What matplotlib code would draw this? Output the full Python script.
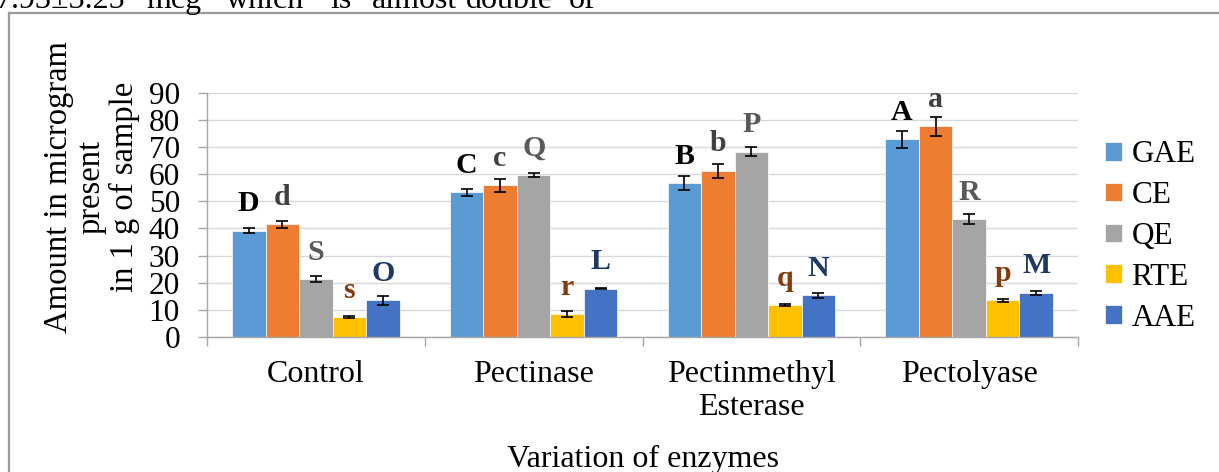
import matplotlib
matplotlib.use("Agg")
import matplotlib.pyplot as plt
import numpy as np
from matplotlib.lines import Line2D

plt.rcParams['font.family'] = ['Liberation Serif', 'DejaVu Serif']

# enzyme treatments and extract groups
enzymes = ['Control', 'Pectinase', 'Pectinmethyl\nEsterase', 'Pectolyase']
series = ['GAE', 'CE', 'QE', 'RTE', 'AAE']

gae = [39.2, 53.3, 56.8, 72.9]
ce = [41.5, 56.0, 61.3, 77.7]
qe = [21.3, 59.8, 68.4, 43.5]
rte = [7.2, 8.4, 11.7, 13.5]
aae = [13.4, 17.8, 15.3, 16.2]

gae_err = [0.9, 1.3, 2.6, 3.3]
ce_err = [1.2, 2.4, 2.5, 3.4]
qe_err = [1.0, 0.6, 1.6, 1.8]
rte_err = [0.3, 1.0, 0.5, 0.6]
aae_err = [1.5, 0.2, 1.0, 0.8]

# significance letters per series
gae_letters = ['D', 'C', 'B', 'A']
ce_letters = ['d', 'c', 'b', 'a']
qe_letters = ['S', 'Q', 'P', 'R']
rte_letters = ['s', 'r', 'q', 'p']
aae_letters = ['O', 'L', 'N', 'M']

values = [gae, ce, qe, rte, aae]
errors = [gae_err, ce_err, qe_err, rte_err, aae_err]
letters = [gae_letters, ce_letters, qe_letters, rte_letters, aae_letters]
colors = ['#5B9BD5', '#ED7D31', '#A5A5A5', '#FFC000', '#4472C4']
letter_colors = ['#000000', '#404040', '#595959', '#843C0C', '#1F3864']

fig = plt.figure(figsize=(12.19, 4.72), dpi=100)
ax = fig.add_axes([207 / 1219, 135.3 / 472, 871 / 1219, 243.5 / 472])

x = np.arange(len(enzymes))
w = 0.154
for i, name in enumerate(series):
    pos = x + (i - 2) * w
    ax.bar(pos, values[i], w, color=colors[i], edgecolor='white',
           linewidth=0.5, label=name, zorder=2)
    ax.errorbar(pos, values[i], yerr=errors[i], fmt='none', ecolor='black',
                elinewidth=1.2, capsize=4.3, capthick=1.2, zorder=3)
    for px, v, lab in zip(pos, values[i], letters[i]):
        ax.annotate(lab, (px, v), xytext=(0, 14), textcoords='offset points',
                    ha='center', va='baseline', fontsize=21.5, fontweight='bold',
                    color=letter_colors[i], zorder=4)

ax.set_xlim(-0.5, len(enzymes) - 0.5)
ax.set_ylim(0, 90)
ax.set_yticks(np.arange(0, 91, 10))
ax.set_xticks(x)
ax.set_xticklabels(enzymes, fontsize=23, linespacing=1.15)
ax.set_xticks(np.arange(-0.5, len(enzymes), 1), minor=True)
ax.tick_params(axis='x', which='major', length=0, pad=17)
ax.tick_params(axis='x', which='minor', length=6.5, color='#A6A6A6', width=1)
ax.tick_params(axis='y', length=6.5, color='#A6A6A6', width=1, labelsize=22.5, pad=13)
ax.grid(axis='y', color='#D9D9D9', linewidth=1, zorder=0)
ax.set_axisbelow(True)
for side in ['top', 'right']:
    ax.spines[side].set_visible(False)
for side in ['left', 'bottom']:
    ax.spines[side].set_color('#A6A6A6')
    ax.spines[side].set_linewidth(1)

fig.text(0.5271, 5.3 / 472, 'Variation of enzymes', ha='center',
         va='baseline', fontsize=23)
fig.text(92 / 1219, 0.604, 'Amount in microgram\npresent\nin 1 g of sample',
         rotation=90, ha='center', va='center', fontsize=23.5,
         multialignment='center', linespacing=1.1)

ax.legend(loc='center left', bbox_to_anchor=(1105 / 1219, 0.499),
          bbox_transform=fig.transFigure, frameon=False, fontsize=22.5,
          handlelength=0.55, handleheight=0.55, handletextpad=0.3,
          labelspacing=0.38, borderpad=0, borderaxespad=0)

# surrounding frame and the line of body text above it
fig.add_artist(Line2D([9 / 1219, 9 / 1219], [0, 1 - 13 / 472],
                      transform=fig.transFigure, color='#9A9A9A', lw=1.6))
fig.add_artist(Line2D([9 / 1219, 1], [1 - 13 / 472, 1 - 13 / 472],
                      transform=fig.transFigure, color='#9A9A9A', lw=1.6))
body_words = ['7.93\u00b13.25', 'mcg', 'which', 'is', 'almost', 'double', 'of']
body_x = [-4, 146, 226, 330, 372, 466, 569]
for word, bx in zip(body_words, body_x):
    fig.text(bx / 1219, 1 - 8 / 472, word, ha='left', va='baseline', fontsize=23)

fig.savefig('out.png', dpi=100)
